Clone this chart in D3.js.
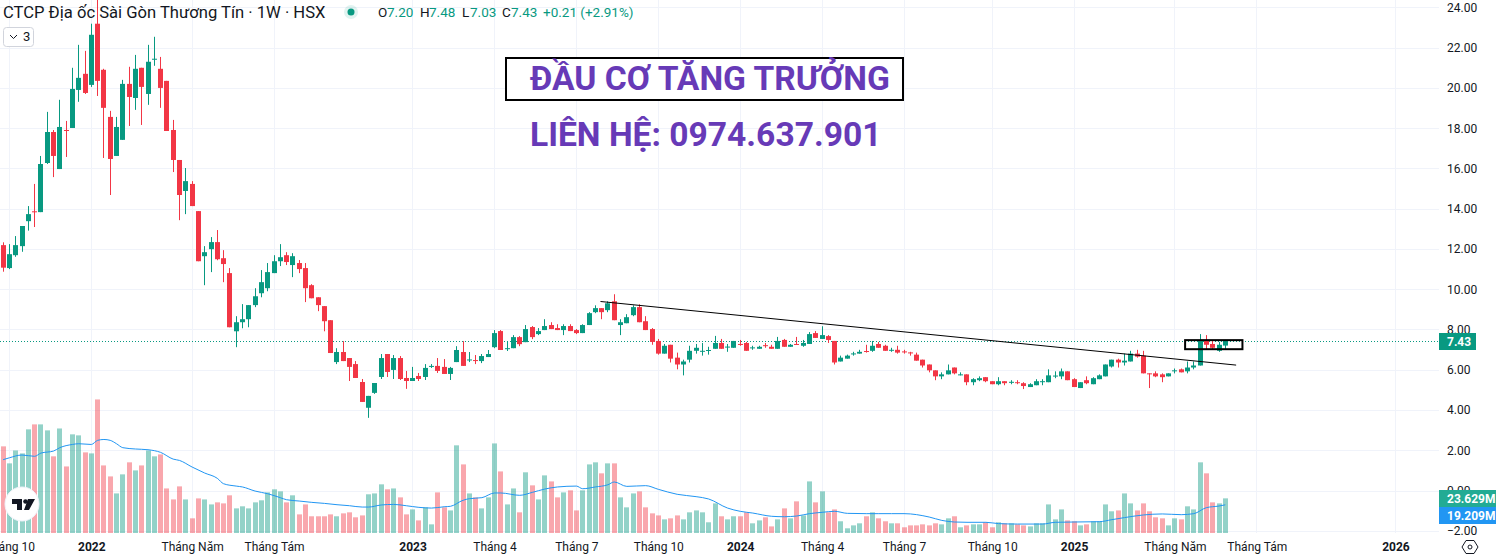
<!DOCTYPE html>
<html><head><meta charset="utf-8">
<script src="https://cdn.jsdelivr.net/npm/d3@7/dist/d3.min.js"></script>
<style>html,body{margin:0;padding:0;background:#fff;overflow:hidden}svg{display:block}text{font-family:Roboto,sans-serif}</style>
</head><body><svg id="c" width="1496" height="560"></svg>
<script>
const opens=[12.19,11.05,11.69,12.14,13.38,13.87,13.83,16.27,17.81,15.97,17.91,18.01,19.9,20.7,20.15,23.19,20.9,18.56,16.62,17.42,20.2,19.5,21.0,19.7,21.4,20.95,20.35,17.91,16.42,14.88,15.23,13.88,11.64,11.99,12.34,11.54,10.8,7.91,8.36,8.51,9.21,9.8,10.05,10.8,11.39,11.69,11.2,11.3,11.05,10.2,9.6,9.16,8.46,6.38,6.88,6.58,6.28,5.39,4.11,4.85,5.64,6.78,5.99,6.58,5.59,5.44,5.69,5.64,6.14,6.19,6.14,5.79,6.38,6.88,6.47,6.48,6.43,6.63,7.12,7.92,7.03,7.07,7.62,7.37,8.12,7.77,7.97,8.22,8.07,7.97,8.17,7.97,7.82,8.22,8.86,9.06,8.96,9.40,8.22,8.31,8.71,9.11,8.41,8.02,7.43,6.80,7.24,6.60,6.26,6.50,6.94,6.91,6.94,7.04,7.33,7.12,7.09,7.28,7.33,7.06,7.04,7.22,7.14,7.04,7.48,7.14,7.28,7.19,7.28,7.82,7.53,7.67,7.43,6.41,6.55,6.76,6.80,6.93,6.94,7.28,7.19,6.96,6.99,6.91,6.86,6.75,6.50,6.26,5.97,5.67,5.77,6.11,5.72,5.77,5.38,5.48,5.63,5.43,5.28,5.43,5.35,5.38,5.33,5.14,5.23,5.40,5.38,5.67,5.67,5.92,5.53,5.09,5.48,5.28,5.53,5.67,6.16,6.50,6.36,6.41,6.80,6.70,5.82,5.82,5.77,5.67,5.92,6.02,5.92,6.11,6.21,7.43,7.28,6.94,7.20];
const highs=[12.33,12.24,12.64,13.14,14.13,15.23,16.62,18.81,17.91,19.41,18.36,21.0,22.14,21.84,23.19,24.6,20.95,18.86,18.56,20.4,21.05,21.64,21.0,22.14,22.54,21.54,20.35,18.41,16.42,16.02,15.37,13.88,12.14,12.59,12.94,11.94,11.05,8.66,9.26,9.21,10.05,10.95,11.3,11.69,12.24,11.84,11.79,11.45,11.3,10.25,9.6,9.16,8.46,7.07,7.42,6.58,6.43,5.54,4.70,5.34,6.78,6.78,6.73,6.68,5.94,6.14,5.84,6.28,6.28,6.58,6.53,6.14,7.17,7.42,6.88,6.73,6.78,6.98,7.97,7.97,7.42,7.72,7.67,8.22,8.17,8.07,8.51,8.36,8.26,8.26,8.26,8.02,8.26,8.86,9.20,9.06,9.40,9.75,8.51,8.76,9.20,9.25,8.66,8.07,7.53,7.28,7.24,6.85,6.50,7.19,7.28,7.33,7.14,7.68,7.53,7.28,7.43,7.48,7.38,7.19,7.19,7.33,7.24,7.63,7.53,7.28,7.63,7.48,7.87,7.92,8.16,7.72,7.43,6.70,6.75,6.89,6.99,7.24,7.43,7.38,7.24,7.09,7.19,6.99,6.89,6.85,6.50,6.26,5.97,5.87,6.26,6.11,5.87,5.77,5.58,5.67,5.63,5.43,5.63,5.43,5.48,5.48,5.38,5.33,5.53,5.53,6.02,5.92,6.06,5.92,5.58,5.38,5.67,5.63,5.77,6.26,6.50,6.55,6.80,6.94,6.99,6.94,5.82,5.92,5.82,5.82,6.06,6.06,6.41,6.41,7.77,7.72,7.43,7.38,7.48];
const lows=[10.87,11.0,11.61,11.86,12.91,13.09,13.83,16.22,15.57,15.97,16.57,18.01,19.31,19.7,20.05,19.6,16.52,14.68,16.62,17.42,18.11,18.91,18.16,19.16,21.1,19.01,17.86,15.82,13.43,13.73,14.13,11.39,10.2,10.85,11.44,10.35,8.11,7.12,8.06,8.11,9.11,9.6,9.9,10.8,11.15,11.2,10.6,10.8,9.36,9.55,8.91,7.91,6.83,6.28,6.43,5.44,5.59,4.40,3.61,4.80,5.54,5.64,5.54,5.49,5.05,5.44,5.44,5.49,6.09,5.84,5.79,5.49,6.38,6.19,6.38,6.28,6.33,6.63,7.07,6.98,6.93,7.07,7.17,7.37,7.52,7.72,7.97,8.02,7.97,7.72,7.92,7.77,7.82,8.22,8.81,8.51,8.86,8.46,7.72,8.31,8.66,8.36,7.97,7.24,6.75,6.80,6.36,6.02,5.72,6.36,6.80,6.70,6.75,7.04,7.04,6.89,7.09,7.19,6.94,6.99,7.04,7.09,7.04,7.04,7.14,7.14,7.24,7.14,7.28,7.58,7.53,7.33,6.26,6.41,6.55,6.70,6.80,6.85,6.89,7.09,6.94,6.89,6.80,6.80,6.70,6.45,6.11,5.87,5.48,5.53,5.77,5.77,5.72,5.23,5.23,5.43,5.38,5.28,5.23,5.23,5.28,5.28,5.04,5.14,5.23,5.23,5.38,5.58,5.53,5.48,5.14,5.09,5.28,5.28,5.53,5.67,6.11,6.11,6.21,6.41,6.60,5.82,5.09,5.63,5.38,5.67,5.82,5.87,5.82,6.02,6.21,6.99,6.99,6.89,7.03];
const closes=[11.07,11.74,12.19,13.14,13.73,13.83,16.22,17.81,16.62,18.06,17.86,19.95,20.5,19.75,22.64,20.35,19.01,16.47,18.06,20.2,19.55,20.95,20.05,21.3,21.45,20.0,17.86,16.42,14.68,15.37,14.13,11.39,11.84,12.34,11.49,11.25,8.11,8.36,8.51,9.21,9.65,10.35,10.85,11.39,11.59,11.35,11.64,11.0,10.05,9.55,9.21,8.41,6.83,6.88,6.43,6.14,5.59,4.40,4.70,5.34,6.58,5.89,6.58,5.54,5.44,5.59,5.54,6.09,6.19,5.94,5.79,6.09,6.98,6.19,6.51,6.43,6.68,6.78,7.82,6.98,7.07,7.62,7.27,8.02,7.62,7.92,8.17,8.02,7.97,8.17,7.92,7.82,8.22,8.81,9.06,8.86,9.30,8.46,8.36,8.61,9.11,8.36,7.97,7.38,6.80,7.19,6.55,6.26,6.41,6.94,7.09,6.94,6.98,7.33,7.04,7.15,7.43,7.24,6.94,7.11,7.14,7.17,7.04,7.43,7.14,7.24,7.25,7.33,7.77,7.58,7.72,7.48,6.36,6.60,6.70,6.81,6.89,6.89,7.19,7.09,6.94,6.99,6.85,6.86,6.83,6.45,6.21,5.97,5.67,5.77,5.97,5.82,5.77,5.38,5.53,5.58,5.43,5.28,5.43,5.33,5.40,5.35,5.19,5.28,5.43,5.43,5.72,5.71,5.92,5.48,5.14,5.38,5.33,5.58,5.72,6.26,6.50,6.36,6.45,6.80,6.65,5.82,5.79,5.67,5.63,5.82,5.97,5.87,6.11,6.21,7.43,7.24,7.09,7.24,7.43];
const volumes=[59.1,47.5,56.3,54.3,70.7,74.1,74.1,70.0,52.3,71.3,45.4,67.3,66.6,55.0,54.3,91.1,46.1,38.6,27.0,40.0,48.2,42.7,46.1,56.3,52.3,53.6,30.4,22.9,31.8,22.9,10.0,23.6,22.9,19.5,20.9,20.2,25.7,16.8,18.2,16.8,20.9,22.3,27.7,29.8,28.4,20.9,25.7,12.7,19.5,11.4,11.4,11.4,12.7,11.4,13.4,14.1,10.7,12.0,26.4,27.0,33.2,29.8,30.4,24.3,12.7,16.1,8.6,17.5,5.9,27.7,17.5,15.4,59.8,46.8,27.0,24.3,16.8,24.3,61.1,42.0,19.5,30.4,14.1,41.4,32.5,22.9,39.3,35.2,24.3,27.7,29.1,15.4,29.1,46.8,48.2,40.7,47.5,47.5,24.3,17.5,27.0,28.4,17.5,13.4,12.0,9.3,10.0,12.0,9.3,14.1,15.4,14.1,7.3,20.2,11.4,9.3,11.4,11.4,14.1,6.6,8.6,10.7,4.5,9.3,16.8,10.0,21.6,12.0,35.2,20.9,28.4,14.1,16.1,8.0,3.2,5.2,6.6,11.4,14.1,10.0,8.0,6.6,6.6,3.9,5.2,5.2,5.9,5.2,6.6,5.9,10.0,11.4,3.9,5.2,5.9,5.9,7.3,3.9,7.3,6.6,6.6,5.9,5.2,4.5,6.6,6.6,19.5,9.3,16.1,8.6,8.0,5.2,5.9,8.0,8.0,19.5,14.8,15.4,27.0,20.2,15.4,20.2,14.8,10.7,10.0,5.2,10.0,9.3,18.2,16.1,48.2,40.7,20.9,20.2,23.629];
const maIndex=[0,1,3,5,6,8,9,11,12,14,15,16,17,18,19,21,23,25,27,28,30,32,34,35,37,38,40,42,44,45,47,49,51,53,55,57,58,60,62,64,66,68,70,71,73,74,76,78,79,82,84,86,88,91,92,94,96,97,99,102,104,107,110,112,115,117,119,122,124,126,128,130,132,134,137,139,141,143,147,149,151,153,156,158,161,165,167,170,174,176,178,181,184,187,189,191,193,194];
const maValues=[50.0,51.3,53.2,52.3,54.5,55.9,58.2,60.4,60.9,60.4,63.2,63.8,63.2,60.9,58.2,57.3,56.8,55.0,50.4,49.5,45.0,40.9,37.3,33.6,32.0,31.4,28.6,26.8,24.1,22.7,21.8,20.9,20.2,19.3,18.6,17.7,17.7,19.1,19.5,18.6,17.5,17.0,17.9,18.2,22.3,23.4,24.1,27.3,27.3,25.7,27.7,30.0,31.4,32.0,30.2,31.4,32.9,34.8,31.8,32.3,29.8,26.4,24.8,23.2,17.0,14.8,13.6,11.4,11.1,11.6,13.2,14.1,14.8,13.4,13.2,13.2,13.2,13.2,10.9,8.6,7.5,7.3,7.3,6.4,6.1,6.1,7.3,7.5,7.7,9.1,10.5,12.3,13.0,12.5,13.2,17.3,18.4,19.209];
const priceTicks=[-2,0,2,4,6,8,10,12,14,16,18,20,22,24];
const timeTicks=[1,14,30,43,65,78,91,104,117,130,143,157,170,186,199,221];
const timeLabels=["Tháng 10","2022","Tháng Năm","Tháng Tám","2023","Tháng 4","Tháng 7","Tháng 10","2024","Tháng 4","Tháng 7","Tháng 10","2025","Tháng Năm","Tháng Tám","2026"];
const yearLabels=["2022","2023","2024","2025","2026"];
const legendLabels=["O","7.20","H","7.48","L","7.03","C","7.43","+0.21 (+2.91%)"];
const trendIndex=[94.9,195.8], trendPrice=[9.39,6.23];
const boxIndex=[187.7,196.8], boxPrice=[7.47,7.02];
const lastPrice=7.43, lastVolume=23.629, lastMA=19.209;

const UP="#089981",DOWN="#f23645",INK="#131722";
const svg=d3.select("#c");
const PW=1439;
const x=d3.scaleLinear().domain([0,194]).range([2.6,1224.8]);
const y=d3.scaleLinear().domain([0,24]).range([490.5,7.4]);
const v=d3.scaleLinear().domain([0,100]).range([533,386.4]);
const up=i=>closes[i]>=opens[i];
const col=i=>up(i)?UP:DOWN;
const sx=i=>Math.round(x(i));
const idx=d3.range(opens.length);

// grid
const g=svg.append("g").attr("stroke","#f0f3fa").attr("stroke-width",1);
g.selectAll(".h").data(priceTicks).join("line").attr("x1",0).attr("x2",PW)
 .attr("y1",d=>Math.round(y(d))+.5).attr("y2",d=>Math.round(y(d))+.5);
g.selectAll(".v").data(timeTicks).join("line").attr("y1",0).attr("y2",533)
 .attr("x1",d=>sx(d)+.5).attr("x2",d=>sx(d)+.5);

// volume
svg.append("g").selectAll("rect").data(idx).join("rect")
 .attr("x",i=>sx(i)-2).attr("width",5)
 .attr("y",i=>v(volumes[i])).attr("height",i=>v(0)-v(volumes[i]))
 .attr("fill",col).attr("opacity",.44);
svg.append("path").datum(maIndex.map((d,i)=>[d,maValues[i]]))
 .attr("fill","none").attr("stroke","#2196f3").attr("stroke-width",1)
 .attr("d",d3.line().x(d=>x(d[0])+.5).y(d=>v(d[1])).curve(d3.curveMonotoneX));

// last price line
svg.append("line").attr("x1",0).attr("x2",PW).attr("y1",Math.round(y(lastPrice))+.5).attr("y2",Math.round(y(lastPrice))+.5)
 .attr("stroke",UP).attr("stroke-width",1).attr("stroke-dasharray","1 2");

// candles
const cg=svg.append("g");
cg.selectAll(".w").data(idx).join("rect").attr("x",i=>sx(i)).attr("width",1)
 .attr("y",i=>y(highs[i])).attr("height",i=>y(lows[i])-y(highs[i])).attr("fill",col);
cg.selectAll(".b").data(idx).join("rect").attr("x",i=>sx(i)-2).attr("width",5)
 .attr("y",i=>y(Math.max(opens[i],closes[i])))
 .attr("height",i=>Math.max(1,Math.abs(y(opens[i])-y(closes[i])))).attr("fill",col);

// drawings
svg.append("line").attr("x1",x(trendIndex[0])).attr("y1",y(trendPrice[0])).attr("x2",x(trendIndex[1])).attr("y2",y(trendPrice[1]))
 .attr("stroke","#000").attr("stroke-width",1);
svg.append("rect").attr("x",x(boxIndex[0])).attr("y",y(boxPrice[0])).attr("width",x(boxIndex[1])-x(boxIndex[0])).attr("height",y(boxPrice[1])-y(boxPrice[0]))
 .attr("fill","none").attr("stroke","#000").attr("stroke-width",2);
svg.append("rect").attr("x",506).attr("y",58).attr("width",397).attr("height",42).attr("fill","#fff").attr("stroke","#000").attr("stroke-width",2);
svg.append("text").attr("x",530).attr("y",90).attr("font-size",33.6).attr("font-weight",700).attr("fill","#673ab7").text("ĐẦU CƠ TĂNG TRƯỞNG");
svg.append("text").attr("x",530).attr("y",146).attr("font-size",33.6).attr("font-weight",700).attr("fill","#673ab7").text("LIÊN HỆ: 0974.637.901");

// price axis
const ya=d3.axisRight(y).tickValues(priceTicks).tickSize(0).tickPadding(0).tickFormat(d=>d<0?"−"+Math.abs(d).toFixed(2):d.toFixed(2));
const yg=svg.append("g").attr("transform",`translate(1447,0)`).call(ya);
yg.select(".domain").remove();
yg.selectAll("text").attr("font-size",12).attr("fill",INK).style("font-family","Roboto,sans-serif");

// time axis
const xa=d3.axisBottom(x).tickValues(timeTicks).tickSize(0).tickPadding(0).tickFormat((d,i)=>timeLabels[i]);
const xg=svg.append("g").attr("transform","translate(0.5,542)").call(xa);
xg.select(".domain").remove();
xg.selectAll("text").attr("font-size",12).attr("fill",INK).style("font-family","Roboto,sans-serif")
 .attr("font-weight",function(){return yearLabels.includes(this.textContent)?700:400});

// value tags
function tag(yy,h,w,fill,txt,weight){
 svg.append("rect").attr("x",1439).attr("y",yy).attr("width",w).attr("height",h).attr("fill",fill);
 svg.append("text").attr("x",1447).attr("y",yy+h/2+4.5).attr("font-size",12).attr("font-weight",weight).attr("fill","#fff").text(txt);
}
tag(333,17,37,UP,lastPrice.toFixed(2),700);
tag(490,17,57,"#22ab94",lastVolume.toFixed(3)+"M",700);
tag(507,17,57,"#2196f3",lastMA.toFixed(3)+"M",700);

// header
svg.append("text").attr("x",3).attr("y",18).attr("font-size",16.6).attr("fill",INK).text("CTCP Địa ốc Sài Gòn Thương Tín · 1W · HSX");
svg.append("circle").attr("cx",351).attr("cy",12).attr("r",7).attr("fill",UP).attr("opacity",.12);
svg.append("circle").attr("cx",351).attr("cy",12).attr("r",3.5).attr("fill",UP);
const legendX=[378,387,420,429,462,470,502,511,543];
const legendInk=[INK,UP,INK,UP,INK,UP,INK,UP,UP];
svg.selectAll(".lg").data(legendLabels).join("text").attr("x",(d,i)=>legendX[i]).attr("y",17).attr("font-size",13.5).attr("fill",(d,i)=>legendInk[i]).text(d=>d);

// collapse button
svg.append("rect").attr("x",3.5).attr("y",27.5).attr("width",30).attr("height",19).attr("rx",3).attr("fill","#fff").attr("stroke","#d1d4dc");
svg.append("path").attr("d","M10 35 l3.5 3.5 l3.5 -3.5").attr("fill","none").attr("stroke",INK);
svg.append("text").attr("x",23).attr("y",41).attr("font-size",13).attr("fill",INK).text("3");

// logo
svg.append("circle").attr("cx",22).attr("cy",504).attr("r",17).attr("fill","#fff").attr("stroke","#f0f3fa");
svg.append("path").attr("d","M12 499h10v11h-5v-6h-5z M28 499h7l-6 11h-5z").attr("fill",INK);
svg.append("circle").attr("cx",25.5).attr("cy",501.5).attr("r",2.3).attr("fill",INK);

// settings icon
svg.append("path").attr("d","M1466 540.5h8l4 6.5l-4 6.5h-8l-4 -6.5z").attr("fill","none").attr("stroke",INK);
svg.append("circle").attr("cx",1470).attr("cy",547).attr("r",2).attr("fill","none").attr("stroke",INK);
</script></body></html>
